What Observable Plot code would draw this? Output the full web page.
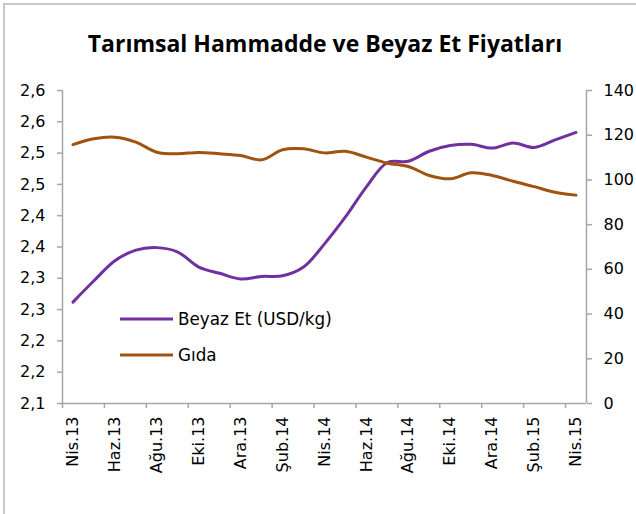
<!DOCTYPE html>
<html><head><meta charset="utf-8">
<script src="https://cdn.jsdelivr.net/npm/d3@7"></script>
<script src="https://cdn.jsdelivr.net/npm/@observablehq/plot@0.6"></script>
<style>
html,body{margin:0;padding:0;background:#fff;}
#wrap{position:relative;width:636px;height:514px;overflow:hidden;}
#frame{position:absolute;left:3px;top:3px;width:700px;height:600px;border-left:2px solid #c8c8c8;border-top:2px solid #c8c8c8;pointer-events:none;}
#title{height:80px;position:relative;}
#title span{position:absolute;left:0;width:650px;top:27px;text-align:center;font-family:"Open Sans",sans-serif;font-weight:700;font-size:23px;color:#000;white-space:nowrap;}
#chart svg{display:block;}
</style></head>
<body>
<div id="wrap">
<div id="title"><span>Tarımsal Hammadde ve Beyaz Et Fiyatları</span></div>
<div id="chart"></div>
<div id="frame"></div>
</div>
<script>
const months = ["Nis.13","May.13","Haz.13","Tem.13","Ağu.13","Eyl.13","Eki.13","Kas.13","Ara.13","Oca.14","Şub.14","Mar.14","Nis.14","May.14","Haz.14","Tem.14","Ağu.14","Eyl.14","Eki.14","Kas.14","Ara.14","Oca.15","Şub.15","Mar.15","Nis.15"];
const beyazEt = [2.262,2.296,2.328,2.345,2.349,2.342,2.318,2.308,2.299,2.303,2.304,2.318,2.355,2.398,2.446,2.485,2.487,2.503,2.512,2.514,2.508,2.516,2.509,2.521,2.533];
const gida = [115.8,118.4,119.1,116.9,112.4,111.7,112.3,111.7,110.9,109.0,113.5,113.9,112.1,112.8,110.2,107.5,106.0,102.0,100.5,103.2,102.0,99.4,97.0,94.5,93.2];
const leftTicks = [2.10,2.15,2.20,2.25,2.30,2.35,2.40,2.45,2.50,2.55,2.60];
const leftLabels = ["2,1","2,2","2,2","2,3","2,3","2,4","2,4","2,5","2,5","2,6","2,6"];
const rightTicks = [0,20,40,60,80,100,120,140];
const seriesNames = ["Beyaz Et (USD/kg)","Gıda"];
const colors = ["#7030a0","#a0520f"];

const yMin = 2.1, yMax = 2.6, rMax = 140;
const toLeft = v => yMin + v / rMax * (yMax - yMin);
const rows = months.map((m, i) => ({i, m, beyaz: beyazEt[i], gida: gida[i]}));
const labelIdx = months.map((m, i) => i).filter(i => i % 2 === 0);
const boundaries = labelIdx.map(i => i - 0.5);
const axisColor = "#a6a6a6";

const plot = Plot.plot({
  width: 636,
  height: 434,
  marginTop: 10,
  marginBottom: 111,
  marginLeft: 62,
  marginRight: 50,
  style: {fontFamily: "DejaVu Sans, sans-serif", fontSize: "16px", color: "#000", background: "transparent"},
  x: {domain: [-0.5, months.length - 0.5]},
  y: {domain: [yMin, yMax]},
  marks: [
    Plot.ruleY([yMin], {stroke: axisColor, strokeWidth: 1.5}),
    Plot.ruleX([-0.5], {stroke: axisColor, strokeWidth: 1.5}),
    Plot.ruleX([months.length - 0.5], {stroke: axisColor, strokeWidth: 1.5}),
    Plot.axisX({ticks: boundaries, tickSize: 5, tickFormat: () => "", stroke: axisColor, strokeWidth: 1.5, label: null}),
    Plot.axisX({ticks: labelIdx, tickSize: 0, tickPadding: 13, tickRotate: -90, tickFormat: i => months[i], fill: "#000", label: null}),
    Plot.axisY({anchor: "left", ticks: leftTicks, tickSize: 5, tickPadding: 12, stroke: axisColor, strokeWidth: 1.5, fill: "#000",
      tickFormat: d => leftLabels[Math.round((d - yMin) / 0.05)], label: null}),
    Plot.axisY({anchor: "right", ticks: rightTicks.map(toLeft), tickSize: 5, tickPadding: 12, stroke: axisColor, strokeWidth: 1.5, fill: "#000",
      tickFormat: d => String(Math.round((d - yMin) / (yMax - yMin) * rMax)), label: null}),
    Plot.line(rows, {x: "i", y: "beyaz", stroke: colors[0], strokeWidth: 3, curve: "catmull-rom"}),
    Plot.line(rows, {x: "i", y: d => toLeft(d.gida), stroke: colors[1], strokeWidth: 3, curve: "catmull-rom"})
  ]
});
document.getElementById("chart").appendChild(plot);

// legend
const svg = d3.select(plot);
const lg = svg.append("g").attr("font-family", "DejaVu Sans, sans-serif").attr("font-size", 16.8).attr("text-anchor", "start");
seriesNames.forEach((name, k) => {
  const y = 239 + k * 36;
  lg.append("line").attr("x1", 120).attr("x2", 173).attr("y1", y).attr("y2", y)
    .attr("stroke", colors[k]).attr("stroke-width", 3);
  lg.append("text").attr("x", 178).attr("y", y).attr("dy", "0.35em").attr("fill", "#000").attr("text-anchor", "start").text(name);
});
</script>
</body></html>
